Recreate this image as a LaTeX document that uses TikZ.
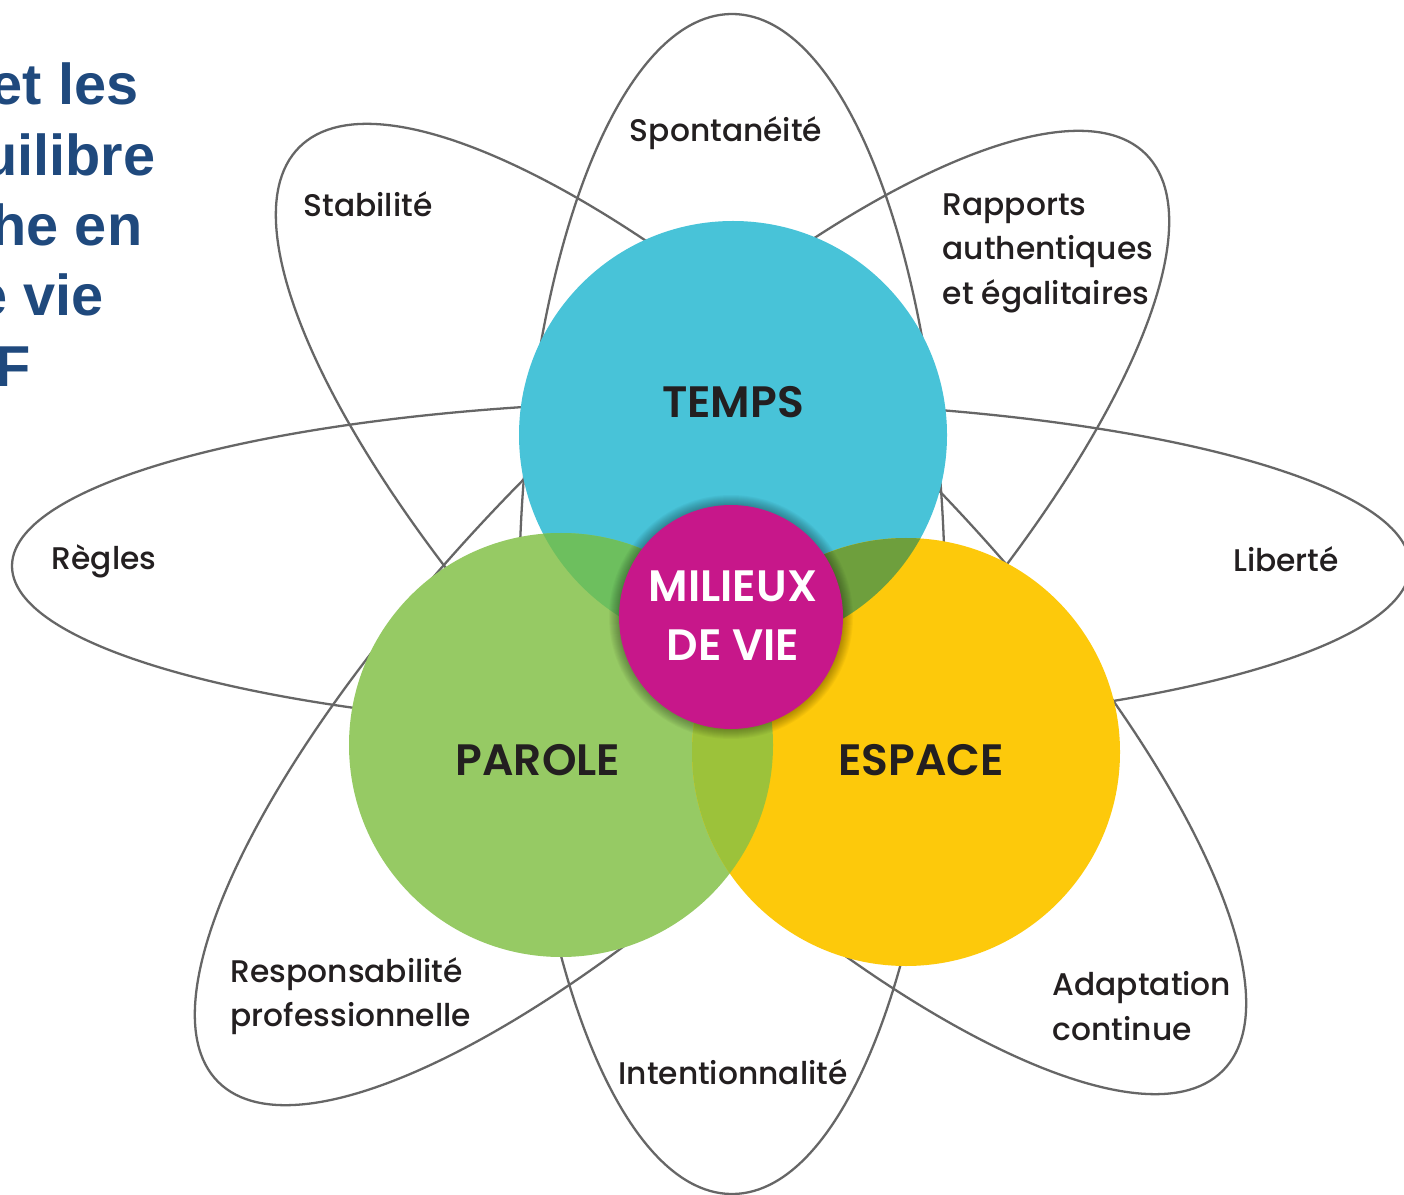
\documentclass[tikz,border=0pt]{standalone}
\usepackage{fontspec}
\setmainfont{Poppins}[UprightFont=* Medium,BoldFont=* SemiBold]
\newfontfamily\titlefont{Liberation Sans}
\usetikzlibrary{positioning}
\definecolor{tempsblue}{HTML}{48C3D8}
\definecolor{parolegreen}{HTML}{96CA64}
\definecolor{espaceyellow}{HTML}{FDC90B}
\definecolor{tpgreen}{HTML}{6DBF5E}
\definecolor{teolive}{HTML}{6E9F3D}
\definecolor{pelime}{HTML}{9CC23A}
\definecolor{milieuxpink}{HTML}{C7178A}
\definecolor{petalgray}{HTML}{666666}
\definecolor{labelgray}{HTML}{231F20}
\definecolor{titleblue}{HTML}{1F497D}
\tikzset{
  petal/.style={draw=petalgray,line width=0.65pt},
  lbl/.style={text=labelgray,inner sep=0pt,align=left,font=\fontsize{8.9}{12.66}\selectfont},
  hub/.style={text=labelgray,inner sep=0pt,align=center,font=\fontsize{12.5}{16.8}\selectfont\bfseries},
  ttl/.style={text=titleblue,inner sep=0pt,anchor=base east,font=\titlefont\fontsize{16.4}{20}\selectfont\bfseries}
}

\begin{document}
\begin{tikzpicture}[x=0.01cm,y=0.01cm]
  \useasboundingbox (0,0) rectangle (1404,-1195);
  \clip (0,0) rectangle (1404,-1195);
  \fill[white] (0,0) rectangle (1404,-1195);
  % centres of the circles
  \coordinate (temps) at (733,-435);
  \coordinate (parole) at (561,-745);
  \coordinate (espace) at (906,-752);
  \coordinate (milieux) at (731,-617);
  % petals
  \draw[petal] (732,-604) ellipse [x radius=213, y radius=590];
  \draw[petal] (711,-566) ellipse [x radius=699, y radius=165];
  \draw[petal, rotate around={-45:(761,-609)}] (761,-609) ellipse [x radius=653, y radius=210];
  \draw[petal, rotate around={45:(682,-618)}] (682,-618) ellipse [x radius=656, y radius=210];
  % circles and overlaps
  \fill[tempsblue] (temps) circle [radius=214];
  \fill[parolegreen] (parole) circle [radius=212];
  \fill[espaceyellow] (espace) circle [radius=214];
  \begin{scope}
    \clip (temps) circle [radius=214];
    \fill[tpgreen] (parole) circle [radius=212];
    \fill[teolive] (espace) circle [radius=214];
  \end{scope}
  \begin{scope}
    \clip (parole) circle [radius=212];
    \fill[pelime] (espace) circle [radius=214];
  \end{scope}
  % centre with its shadow
  \foreach \k in {1,...,10}
    \fill[black,opacity=0.03] (milieux) circle [radius={112+\k}];
  \fill[milieuxpink] (milieux) circle [radius=112];
  \node[hub] (temps-l) at (733,-402) {TEMPS};
  \node[hub] (parole-l) at (538,-760) {PAROLE};
  \node[hub] (espace-l) at (921,-760) {ESPACE};
  \node[hub,text=white] (milieux-l) at (733,-616) {MILIEUX\\DE VIE};
  % petal labels
  \node[lbl] (spont) at (726,-133) {Spontanéité};
  \node[lbl] (stab) at (368,-204) {Stabilité};
  \node[lbl,anchor=west] (rapp) at (942,-253) {Rapports\\authentiques\\et égalitaires};
  \node[lbl] (regles) at (104,-561) {Règles};
  \node[lbl] (liberte) at (1286,-559) {Liberté};
  \node[lbl,anchor=west] (resp) at (230,-996) {Responsabilité\\professionnelle};
  \node[lbl] (intent) at (733,-1072) {Intentionnalité};
  \node[lbl,anchor=west] (adapt) at (1052,-1006) {Adaptation\\continue};
  % title, cut by the left edge
  \node[ttl] (t1) at (139,-105) {et les};
  \node[ttl] (t2) at (156,-176) {uilibre};
  \node[ttl] (t3) at (143,-246) {he en};
  \node[ttl] (t4) at (104,-316) {e vie};
  \node[ttl] (t5) at (31,-387) {F};
\end{tikzpicture}
\end{document}
